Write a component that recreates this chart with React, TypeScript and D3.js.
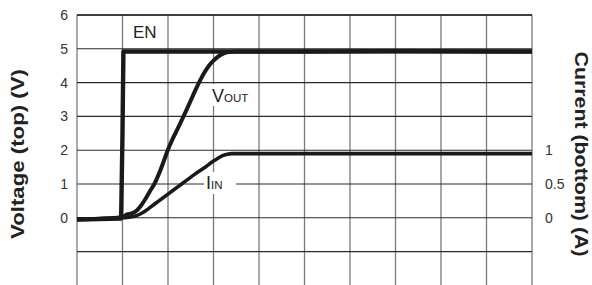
import React from 'react';
import * as d3 from 'd3';

// time in grid divisions, voltage in V, current in A
const timeTicks = [0, 1, 2, 3, 4, 5, 6, 7, 8, 9, 10];
const voltTicks = [0, 1, 2, 3, 4, 5, 6];
const voltGrid = [-1, 0, 1, 2, 3, 4, 5, 6];
const currTicks = [0, 0.5, 1];

const enT = [0, 0.5, 0.97, 1.0, 1.02, 1.2, 3, 5, 7, 10];
const enV = [-0.05, -0.04, -0.02, 2.5, 4.92, 4.92, 4.92, 4.92, 4.93, 4.92];

const voutT = [0, 1.0, 1.1, 1.2, 1.3, 1.4, 1.5, 1.6, 1.7, 1.8, 1.9, 2.0, 2.1, 2.2, 2.3, 2.4, 2.5, 2.6, 2.7, 2.8, 2.9, 3.0, 3.1, 3.2, 3.3, 3.5, 10];
const voutV = [-0.05, 0.02, 0.1, 0.13, 0.2, 0.35, 0.55, 0.78, 1.0, 1.3, 1.65, 2.02, 2.33, 2.6, 2.88, 3.17, 3.47, 3.77, 4.05, 4.3, 4.5, 4.65, 4.77, 4.85, 4.9, 4.92, 4.92];

const iinT = [0, 1.0, 1.1, 1.2, 1.3, 1.4, 1.5, 1.6, 1.8, 2.0, 2.2, 2.4, 2.6, 2.8, 3.0, 3.1, 3.2, 3.3, 3.4, 10];
const iinA = [-0.02, 0, 0.005, 0.015, 0.03, 0.06, 0.1, 0.15, 0.25, 0.35, 0.45, 0.55, 0.65, 0.74, 0.84, 0.88, 0.92, 0.94, 0.95, 0.95];

const W = 592;
const H = 285;

export default function App() {
  const x = d3.scaleLinear().domain([0, 10]).range([77, 532]);
  const y = d3.scaleLinear().domain([-2, 6]).range([285.4, 15]);
  const yI = d3.scaleLinear().domain([-1, 3]).range([285.4, 15]);

  const line = d3.line<[number, number]>()
    .x(d => x(d[0]))
    .y(d => y(d[1]));
  const smooth = d3.line<[number, number]>()
    .x(d => x(d[0]))
    .y(d => y(d[1]))
    .curve(d3.curveMonotoneX);
  const smoothI = d3.line<[number, number]>()
    .x(d => x(d[0]))
    .y(d => yI(d[1]))
    .curve(d3.curveMonotoneX);

  const en = enT.map((t, i) => [t, enV[i]] as [number, number]);
  const vout = voutT.map((t, i) => [t, voutV[i]] as [number, number]);
  const iin = iinT.map((t, i) => [t, iinA[i]] as [number, number]);

  const font = 'Liberation Sans, Arial, sans-serif';

  return (
    <svg width={W} height={H} style={{ position: 'absolute', left: 0, top: 0, display: 'block' }} fontFamily={font}>
      <rect width={W} height={H} fill="#fff" />
      {timeTicks.map(t => (
        <line key={'v' + t} x1={x(t)} x2={x(t)} y1={y(6)} y2={H} stroke="#7a7a7a" strokeWidth={1.3} />
      ))}
      {voltGrid.map(v => (
        <line key={'h' + v} x1={x(0)} x2={x(10)} y1={y(v)} y2={y(v)} stroke="#2a2a2a" strokeWidth={1.1} />
      ))}
      <line x1={x(0)} x2={x(10)} y1={y(6)} y2={y(6)} stroke="#222" strokeWidth={1.3} />

      {/* label backgrounds that cut the grid */}
      <rect x={210} y={84} width={46} height={22} fill="#fff" />
      <rect x={204} y={172} width={32} height={22} fill="#fff" />

      <path d={smoothI(iin) || ''} fill="none" stroke="#1a1a1a" strokeWidth={3.6} strokeLinejoin="round" />
      <path d={smooth(vout) || ''} fill="none" stroke="#1a1a1a" strokeWidth={4} strokeLinejoin="round" />
      <path d={line(en) || ''} fill="none" stroke="#1a1a1a" strokeWidth={4.4} strokeLinejoin="round" />

      {voltTicks.map(v => (
        <text key={'yl' + v} x={68} y={y(v)} dy="0.35em" textAnchor="end" fontSize={14} fill="#333">{v}</text>
      ))}
      {currTicks.map(c => (
        <text key={'yr' + c} x={545} y={yI(c)} dy="0.35em" textAnchor="start" fontSize={14} fill="#333">{c}</text>
      ))}

      <text x={133} y={38} fontSize={17} fill="#222">EN</text>
      <text x={212} y={102} fontSize={18} fill="#222">V<tspan fontSize={11.5}>OUT</tspan></text>
      <text x={206} y={189} fontSize={18} fill="#222">I<tspan fontSize={11.5}>IN</tspan></text>

      <text transform="translate(24,154) rotate(-90)" textAnchor="middle" fontSize={19} fontWeight="bold" fill="#222"
        textLength={170} lengthAdjust="spacingAndGlyphs">Voltage (top) (V)</text>
      <text transform="translate(575,154) rotate(90)" textAnchor="middle" fontSize={19} fontWeight="bold" fill="#222"
        textLength={205} lengthAdjust="spacingAndGlyphs">Current (bottom) (A)</text>
    </svg>
  );
}
